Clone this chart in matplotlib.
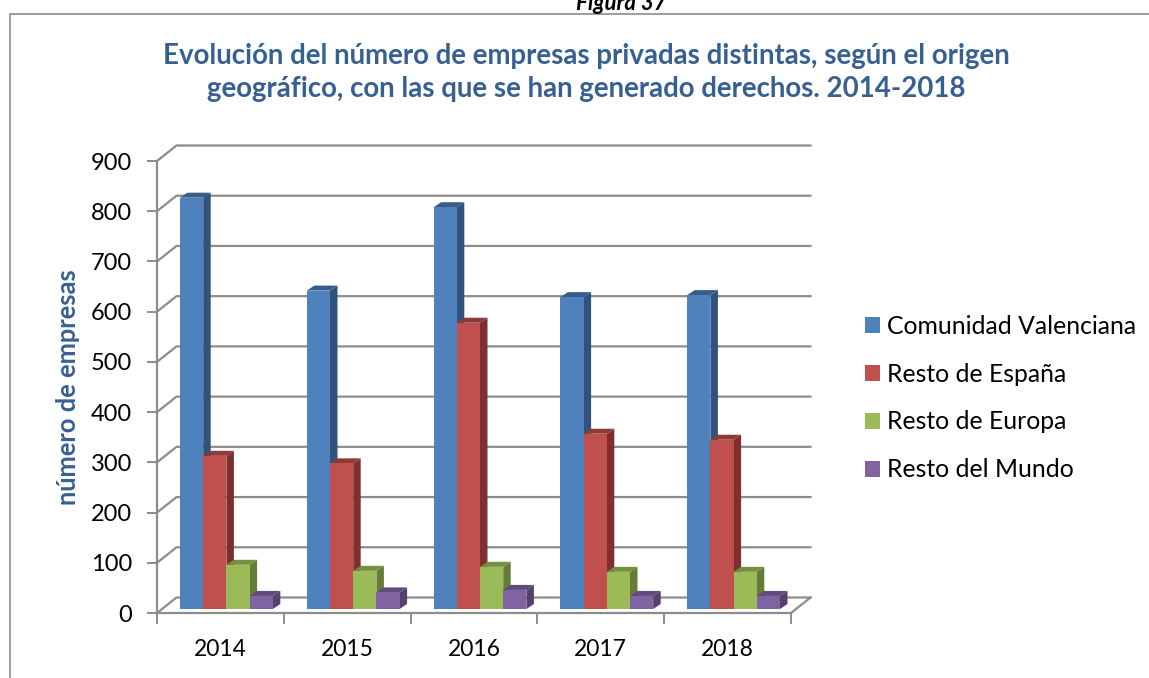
import numpy as np
import matplotlib
matplotlib.use("Agg")
import matplotlib.pyplot as plt
from matplotlib.patches import Patch

years = ["2014", "2015", "2016", "2017", "2018"]
series_names = ["Comunidad Valenciana", "Resto de España", "Resto de Europa", "Resto del Mundo"]
valenciana = [819, 634, 800, 621, 625]
espana = [305, 290, 570, 349, 337]
europa = [88, 76, 84, 74, 74]
mundo = [26, 33, 38, 26, 26]
yticks = [0, 100, 200, 300, 400, 500, 600, 700, 800, 900]

front = ["#4F81BD", "#C0504D", "#9BBB59", "#8064A2"]
side = ["#30527C", "#7F302E", "#667C3A", "#54416E"]
top = ["#385D8A", "#8E3A38", "#74903F", "#5F4B7D"]
grid_col = "#8C8C8C"
title_col = "#376092"

plt.rcParams['font.family'] = ['Lato', 'DejaVu Sans']

W, H = 1149, 678
fig = plt.figure(figsize=(W / 100, H / 100), dpi=100)
ax = fig.add_axes([157 / W, 1 - 613 / H, 634 / W, 452 / H])
ax.set_xlim(0, 5)
ax.set_ylim(0, 900)

# pixel sizes turned into data units
px = 5 / 634
py = 900 / 452
wall_x, wall_y = 19.5 * px, 15.5 * py
depth_x, depth_y = 7.5 * px, 5 * py
base = 4 * py
bar_w = 23.2 * px
start = 23 * px

# back wall grid and floor
for v in yticks:
    ax.plot([0, wall_x, 5 + wall_x], [v, v + wall_y, v + wall_y], color=grid_col, lw=1.6,
            clip_on=False, zorder=1, solid_joinstyle='miter')
ax.plot([5, 5 + wall_x], [0, wall_y], color=grid_col, lw=1.6, clip_on=False, zorder=1)

all_series = [valenciana, espana, europa, mundo]
for i in range(len(years)):
    for j, vals in enumerate(all_series):
        x0 = i + start + j * bar_w
        v = vals[i]
        ax.bar(x0, v, bar_w, bottom=base, align='edge', color=front[j], zorder=3 + i + j * 0.1, clip_on=False)
        x1 = x0 + bar_w
        y1 = base + v
        ax.fill([x1, x1 + depth_x, x1 + depth_x, x1], [base, base + depth_y, y1 + depth_y, y1],
                color=side[j], lw=0, zorder=2.9 + i + j * 0.1, clip_on=False)
        ax.fill([x0, x0 + depth_x, x1 + depth_x, x1], [y1, y1 + depth_y, y1 + depth_y, y1],
                color=top[j], lw=0, zorder=2.9 + i + j * 0.1, clip_on=False)

for s in ['top', 'right']:
    ax.spines[s].set_visible(False)
for s in ['left', 'bottom']:
    ax.spines[s].set_color(grid_col)
    ax.spines[s].set_linewidth(1.6)
    ax.spines[s].set_zorder(2)

ax.set_yticks(yticks)
ax.tick_params(axis='y', length=7, width=1.4, color=grid_col, labelsize=17, pad=11)
ax.set_xticks(range(6))
ax.set_xticklabels([])
ax.set_xticks(np.arange(5) + 0.5, labels=years, minor=True)
ax.tick_params(axis='x', which='major', length=8, width=1.4, color=grid_col)
ax.tick_params(axis='x', which='minor', length=0, labelsize=16.5, pad=18.5)

fig.text(68 / W, 1 - 387 / H, "número de empresas", rotation=90, ha='center', va='center',
         fontsize=18.4, fontweight='bold', color=title_col)

fig.text(586 / W, 1 - 56 / H, "Evolución del número de empresas privadas distintas, según el origen",
         ha='center', va='center', fontsize=19.9, fontweight='bold', color=title_col)
fig.text(586 / W, 1 - 89 / H, "geográfico, con las que se han generado derechos. 2014-2018",
         ha='center', va='center', fontsize=19.9, fontweight='bold', color=title_col)

# caption cut by the top edge of the picture
fig.text(621 / W, 1 - 3.5 / H, "Figura 37", ha='center', va='center', fontsize=16,
         fontweight='bold', fontstyle='italic', color='black')

handles = [Patch(facecolor=c, edgecolor='none') for c in front]
fig.legend(handles, series_names, loc='center left', bbox_to_anchor=(855 / W, 1 - 398 / H), frameon=False,
           fontsize=17.8, handlelength=0.61, handleheight=0.61, handletextpad=0.28, labelspacing=1.01,
           borderaxespad=0)

# chart frame, only left and top edges are inside the picture
fig.add_artist(plt.Line2D([9.5 / W, 9.5 / W, 1], [0, 1 - 14 / H, 1 - 14 / H], color="#8C8C8C", lw=1.2))

fig.savefig("out.png", dpi=100)
